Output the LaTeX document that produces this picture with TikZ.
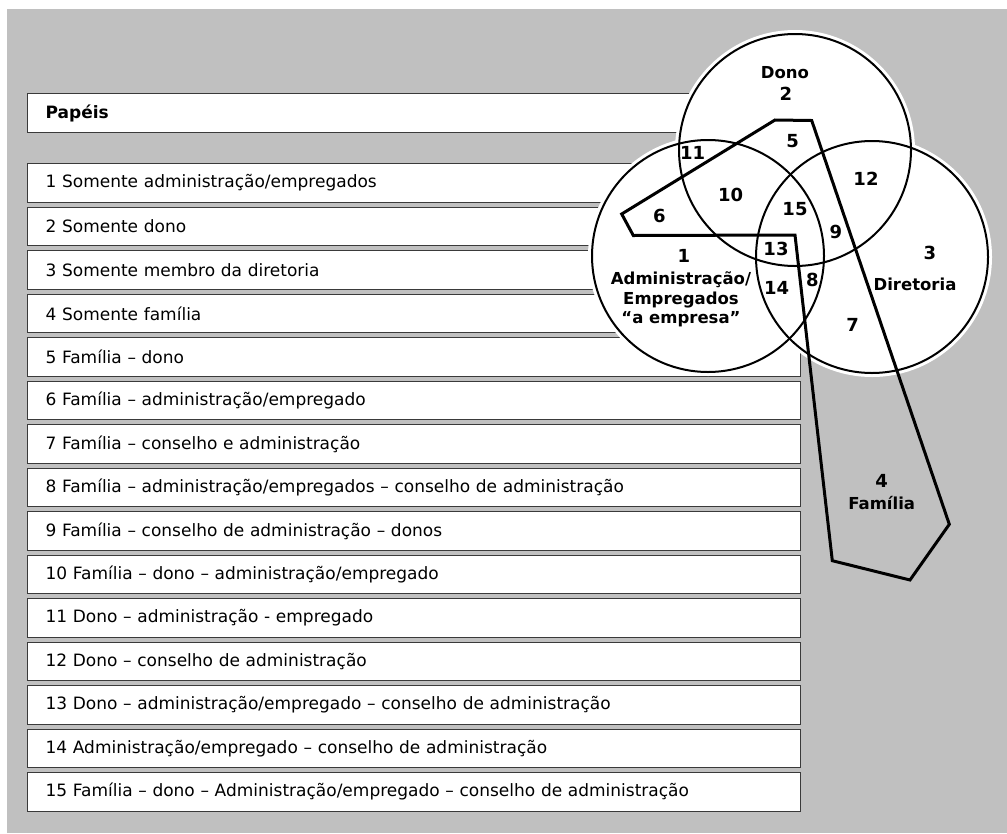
\documentclass[tikz,border=0pt]{standalone}
\usepackage{fontspec}
\setmainfont{DejaVu Sans}
\definecolor{panel}{HTML}{C0C0C0}
\definecolor{boxline}{HTML}{3A3A3A}
\tikzset{
  rolebox/.style={draw=boxline, line width=1.2pt, fill=white, anchor=north west,
    minimum width=773pt, minimum height=38.5pt, text width=737pt,
    inner xsep=18pt, inner ysep=0pt, align=left,
    font=\fontsize{17}{20}\selectfont},
  halo/.style={fill=white, draw=white, line width=8pt},
  ring/.style={draw=black, line width=2pt},
  famline/.style={draw=black, line width=3pt, line join=miter},
  lbl/.style={font=\fontsize{16.5}{19.5}\bfseries\selectfont, align=center, inner sep=0pt},
  num/.style={font=\fontsize{18}{20}\bfseries\selectfont, inner sep=0pt},
}
\begin{document}
\begin{tikzpicture}[x=1pt, y=-1pt]
\useasboundingbox (0,0) rectangle (1007,833);
% background panel
\fill[panel] (7,9) rectangle (1007,833);

% role list
\node[rolebox, minimum height=39pt, font=\fontsize{17}{20}\bfseries\selectfont] (head) at (27,93) {Papéis};
\node[rolebox] (r1)  at (27,163.0) {1 Somente administração/empregados};
\node[rolebox] (r2)  at (27,206.5) {2 Somente dono};
\node[rolebox] (r3)  at (27,250.0) {3 Somente membro da diretoria};
\node[rolebox] (r4)  at (27,293.5) {4 Somente família};
\node[rolebox] (r5)  at (27,337.0) {5 Família – dono};
\node[rolebox] (r6)  at (27,380.5) {6 Família – administração/empregado};
\node[rolebox] (r7)  at (27,424.0) {7 Família – conselho e administração};
\node[rolebox] (r8)  at (27,467.5) {8 Família – administração/empregados – conselho de administração};
\node[rolebox] (r9)  at (27,511.0) {9 Família – conselho de administração – donos};
\node[rolebox] (r10) at (27,554.5) {10 Família – dono – administração/empregado};
\node[rolebox] (r11) at (27,598.0) {11 Dono – administração - empregado};
\node[rolebox] (r12) at (27,641.5) {12 Dono – conselho de administração};
\node[rolebox] (r13) at (27,685.0) {13 Dono – administração/empregado – conselho de administração};
\node[rolebox] (r14) at (27,728.5) {14 Administração/empregado – conselho de administração};
\node[rolebox] (r15) at (27,772.0) {15 Família – dono – Administração/empregado – conselho de administração};

% Venn circles
\coordinate (cAdm) at (708,256);
\coordinate (cDono) at (795,150);
\coordinate (cDir) at (872,257);
\foreach \c in {cAdm,cDono,cDir} \path[halo] (\c) circle[radius=116pt];
\foreach \c in {cAdm,cDono,cDir} \path[ring] (\c) circle[radius=116pt];

% family outline
\coordinate (f1) at (775,120);
\coordinate (f2) at (811.7,120.5);
\coordinate (f3) at (949.3,524.3);
\coordinate (f4) at (910,580);
\coordinate (f5) at (832.3,560.7);
\coordinate (f6) at (795,235);
\coordinate (f7) at (633.3,235.5);
\coordinate (f8) at (621.7,214);
\draw[famline] (f1) -- (f2) -- (f3) -- (f4) -- (f5) -- (f6) -- (f7) -- (f8) -- cycle;

% region labels
\node[lbl] (lDono) at (785,73) {Dono};
\node[num] (n2)  at (786,94) {2};
\node[num] (n5)  at (792.7,141) {5};
\node[num] (n11) at (692.7,153.3) {11};
\node[num] (n10) at (730.7,195) {10};
\node[num] (n12) at (866,179) {12};
\node[num] (n15) at (795,209) {15};
\node[num] (n6)  at (659.3,216) {6};
\node[num] (n9)  at (836,231.7) {9};
\node[num] (n13) at (776,249.3) {13};
\node[num] (n3)  at (930,252.7) {3};
\node[num] (n1)  at (684,256) {1};
\node[lbl] (lAdm) at (681,299.5) {Administração/\\Empregados\\“a empresa”};
\node[num] (n14) at (776.7,288.3) {14};
\node[num] (n8)  at (812.3,280) {8};
\node[lbl] (lDir) at (915,284) {Diretoria};
\node[num] (n7)  at (852.7,325) {7};
\node[num] (n4)  at (881.7,480.7) {4};
\node[lbl] (lFam) at (881.7,503.3) {Família};
\end{tikzpicture}
\end{document}
